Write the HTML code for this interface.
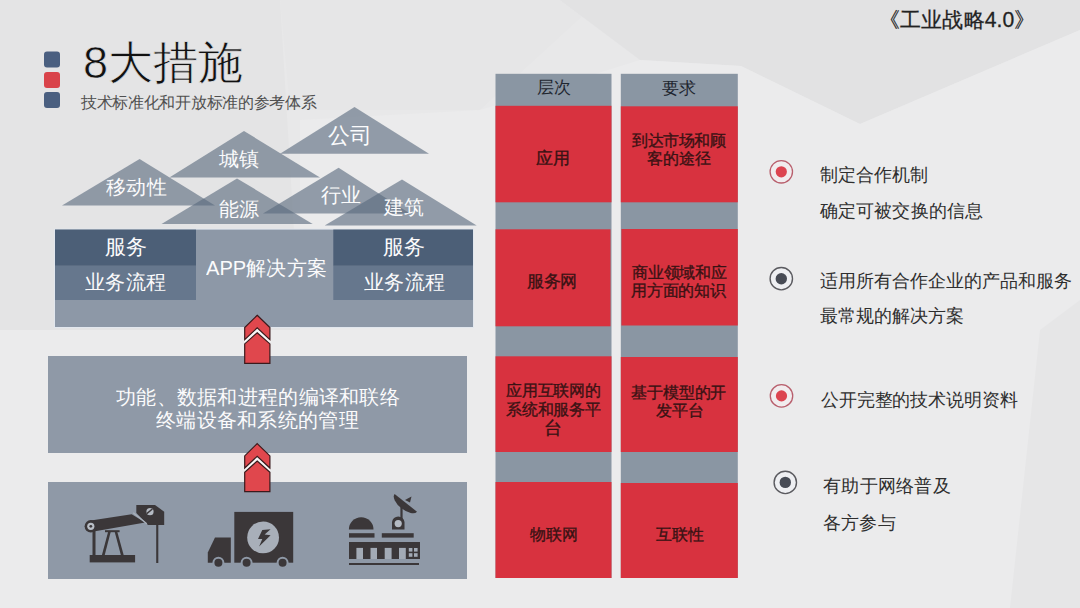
<!DOCTYPE html>
<html><head><meta charset="utf-8">
<style>
html,body{margin:0;padding:0;}
body{width:1080px;height:608px;overflow:hidden;position:relative;background:#e8e8e9;font-family:"Liberation Sans",sans-serif;}
.a{position:absolute;white-space:nowrap;}
svg{position:absolute;left:0;top:0;}
.w{color:#fff;}
.tri{font-size:22px;line-height:22px;color:#fbfbfc;}
.cell{position:absolute;font-size:15.5px;line-height:19.5px;color:#3a1416;text-align:center;display:flex;align-items:center;justify-content:center;white-space:normal;}
.bt{font-size:18px;line-height:18px;color:#2e2e2e;}
.t{position:absolute;white-space:nowrap;transform-origin:0 0;}
</style></head>
<body>
<svg width="1080" height="608" viewBox="0 0 1080 608">
  <!-- background facets -->
  <rect x="0" y="0" width="1080" height="608" fill="#e8e8e9"/>
  <polygon points="0,0 280,0 300,330 0,330" fill="#e4e4e5"/>
  <polygon points="280,0 600,0 480,110 290,110" fill="#e6e6e7"/>
  <polygon points="560,0 1080,0 1080,30 860,124 741,66 640,60" fill="#e2e2e3"/>
  <polygon points="300,120 480,110 640,60 741,66 860,124 1080,30 1080,608 300,608" fill="#ebebec"/>
  <polygon points="1040,330 1080,300 1080,608 1010,608" fill="#e6e6e7"/>
  <polygon points="0,330 300,330 330,608 0,608" fill="#ebebec"/>
  <!-- bullet squares -->
  <rect x="44" y="51.5" width="16" height="16" rx="3" fill="#4a5f80"/>
  <rect x="44" y="72" width="16" height="16" rx="3" fill="#d9434a"/>
  <rect x="44" y="92" width="16" height="16" rx="3" fill="#4a5f80"/>

  <!-- triangles -->
  <g fill="rgb(90,106,126)" fill-opacity="0.62">
    <polygon points="354.5,107 280,153.7 429,153.7"/>
    <polygon points="244,131 169.4,177.6 320,177.6"/>
    <polygon points="139.6,159 62,205.5 215,205.5"/>
    <polygon points="237,178.4 161.5,224 312.7,224"/>
    <polygon points="338.6,167.7 263,213.5 410,213.5"/>
    <polygon points="402,179.6 324.7,225.4 476.7,225.4"/>
  </g>

  <!-- app block -->
  <rect x="54" y="228.6" width="420" height="99.4" fill="#e2e7ee"/>
  <rect x="55" y="229.6" width="418" height="97.4" fill="#8d98a7"/>
  <rect x="55" y="229.6" width="141" height="36.2" fill="#4c5f77"/>
  <rect x="55" y="265.8" width="141" height="34.2" fill="#66778d"/>
  <rect x="333.3" y="229.6" width="139.7" height="36.2" fill="#4c5f77"/>
  <rect x="333.3" y="265.8" width="139.7" height="34.2" fill="#66778d"/>

  <!-- middle block -->
  <rect x="48" y="356" width="419" height="97" fill="#8f99a7"/>
  <!-- bottom block -->
  <rect x="48" y="482" width="419" height="97" fill="#8f99a7"/>


  <!-- icons -->
  <g fill="#3b3739">
    <!-- oil pump -->
    <rect x="89.7" y="555" width="45.4" height="7.4"/>
    <rect x="92.5" y="530" width="3" height="26"/>
    <rect x="105" y="530.2" width="14.6" height="2"/>
    <polygon points="108.2,531.5 110.8,531.5 104.6,555.5 101.8,555.5"/>
    <polygon points="114.6,531.5 117.2,531.5 123.8,555.5 121,555.5"/>
    <polygon points="90.8,520.6 131.7,514.2 145.2,522.6 90.8,532"/>
    <circle cx="90.8" cy="526.3" r="6.2"/>
    <circle cx="90.8" cy="526.3" r="3.6" fill="#b9bec6"/>
    <circle cx="90.8" cy="526.3" r="1.4"/>
    <polygon points="136.3,505 155,505 164.2,511.7 164.2,525 148,525 136.3,513"/>
    <rect x="156.2" y="524" width="2.1" height="39"/>
  </g>
  <line x1="133.2" y1="512.8" x2="146.8" y2="523.8" stroke="#a9b0ba" stroke-width="1.3"/>
  <circle cx="150" cy="511.7" r="3.6" fill="#b4bac3"/>
  <line x1="146.8" y1="513.6" x2="152.4" y2="509" stroke="#3b3739" stroke-width="1.4"/>
  <g fill="#3b3739">
    <!-- truck -->
    <rect x="234.3" y="511.9" width="58.9" height="50.8"/>
    <polygon points="215,537.4 230.8,537.4 230.8,562.7 207.8,562.7 207.8,552.4"/>
  </g>
  <circle cx="263.1" cy="537.4" r="15.9" fill="#a8afb9"/>
  <polygon points="262.3,530.1 270.6,529.2 264.6,534.4 270.6,535.3 259.1,546.5 262.3,539 258,539" fill="#3b3739"/>
  <g fill="#3b3739" stroke="#8f99a7" stroke-width="2">
    <circle cx="218.4" cy="562.7" r="5"/>
    <circle cx="246.6" cy="562.7" r="5"/>
    <circle cx="282.6" cy="562.7" r="5"/>
  </g>
  <g fill="#3b3739">
    <!-- observatory -->
    <path d="M348.9,529.5 A12.3,12.3 0 0 1 373.5,529.5 Z"/>
    <rect x="349" y="533.2" width="25.5" height="4.4"/>
    <rect x="381.8" y="533.2" width="31.9" height="4.4"/>
    <rect x="349" y="542" width="71" height="17"/>
    <rect x="349" y="563" width="70" height="2"/>
    <path d="M392,529.5 L392,522 A6.3,6.3 0 0 1 404.5,522 L404.5,529.5 Z"/>
    <rect x="400.4" y="505" width="2.2" height="14"/>
    <path d="M394.6,494 A14.25,7 38.3 0 0 417,511.7 Z"/>
    <polygon points="405,500 411.5,496.5 410,502.5"/>
  </g>
  <circle cx="398.2" cy="523.6" r="3.6" fill="#b4bac3"/>
  <g fill="#a3abb6">
    <rect x="356.4" y="547.9" width="6.6" height="11.1"/>
    <rect x="370.5" y="547.9" width="6.5" height="11.1"/>
    <rect x="384.7" y="547.9" width="6.9" height="11.1"/>
    <rect x="399" y="547.9" width="6.8" height="11.1"/>
    <rect x="408.8" y="548" width="3.6" height="3.6"/>
    <rect x="414" y="548" width="3.6" height="3.6"/>
    <rect x="408.8" y="553.2" width="3.6" height="3.6"/>
    <rect x="414" y="553.2" width="3.6" height="3.6"/>
  </g>

  <!-- arrows -->
  <g transform="translate(0,315.3)">
    <polyline points="244.7,26.6 257.2,14.9 269.9,26.6" fill="none" stroke="#f7f7f7" stroke-width="4.2"/>
    <polygon points="257.2,0 269.9,12.3 269.9,24.4 257.2,12.6 244.7,24.4 244.7,12.3" fill="#e0474d" stroke="#3a1a1c" stroke-width="1.2"/>
    <polygon points="257.2,17.4 269.9,28.6 269.9,48 244.7,48 244.7,28.6" fill="#e0474d" stroke="#3a1a1c" stroke-width="1.2"/>
  </g>
  <g transform="translate(0,443.6)">
    <polyline points="244.7,26.6 257.2,14.9 269.9,26.6" fill="none" stroke="#f7f7f7" stroke-width="4.2"/>
    <polygon points="257.2,0 269.9,12.3 269.9,24.4 257.2,12.6 244.7,24.4 244.7,12.3" fill="#e0474d" stroke="#3a1a1c" stroke-width="1.2"/>
    <polygon points="257.2,17.4 269.9,28.6 269.9,48 244.7,48 244.7,28.6" fill="#e0474d" stroke="#3a1a1c" stroke-width="1.2"/>
  </g>
  <!-- columns -->
  <g fill="#8a96a3">
    <rect x="495.5" y="73.8" width="116" height="504.2"/>
    <rect x="620.8" y="73.8" width="117" height="504.2"/>
  </g>
  <g fill="#d8323f">
    <rect x="495.5" y="105.8" width="116" height="96.5"/>
    <rect x="495.5" y="229.3" width="115" height="97"/>
    <rect x="495.5" y="356.3" width="116" height="95.7"/>
    <rect x="495.5" y="482" width="116" height="96"/>
    <rect x="620.8" y="106.3" width="117" height="96"/>
    <rect x="621.4" y="229" width="116.4" height="96.5"/>
    <rect x="620.8" y="357" width="117" height="95"/>
    <rect x="620.8" y="483" width="117" height="95"/>
  </g>

  <!-- radio bullets -->
  <g>
    <circle cx="781.3" cy="171.8" r="11.2" fill="#f1ecee" stroke="#b85f6d" stroke-width="1.3"/>
    <circle cx="781.3" cy="171.8" r="5.6" fill="#dc4450"/>
    <circle cx="781.3" cy="278.7" r="11.2" fill="#eeeff2" stroke="#5b5b60" stroke-width="1.4"/>
    <circle cx="781.3" cy="278.7" r="5.7" fill="#474b55"/>
    <circle cx="781.5" cy="395.9" r="11.2" fill="#f1ecee" stroke="#b85f6d" stroke-width="1.3"/>
    <circle cx="781.5" cy="395.9" r="5.6" fill="#dc4450"/>
    <circle cx="785.3" cy="482.4" r="11.2" fill="#eeeff2" stroke="#5b5b60" stroke-width="1.4"/>
    <circle cx="785.3" cy="482.4" r="5.7" fill="#474b55"/>
  </g>
</svg>

<!-- TEXT START -->
<div class="t" style="left:83.34px;top:39.93px;font-size:46px;line-height:46px;font-weight:400;color:#111;transform:scale(0.9814);-webkit-text-stroke:0.7px #e4e4e5;">8大措施</div>
<div class="t" style="left:81.00px;top:94.94px;font-size:16px;line-height:16px;font-weight:400;color:#505050;transform:scale(0.9808);">技术标准化和开放标准的参考体系</div>
<div class="t" style="left:878.76px;top:9.07px;font-size:20px;line-height:20px;font-weight:400;color:#222;transform:scale(1.0579);-webkit-text-stroke:0.25px #222;">《工业战略4.0》</div>
<div class="t" style="left:328.10px;top:125.23px;font-size:22px;line-height:22px;font-weight:400;color:#fbfbfc;transform:scale(0.9825);">公司</div>
<div class="t" style="left:219.30px;top:149.23px;font-size:22px;line-height:22px;font-weight:400;color:#fbfbfc;transform:scale(0.9209);">城镇</div>
<div class="t" style="left:105.50px;top:177.43px;font-size:22px;line-height:22px;font-weight:400;color:#fbfbfc;transform:scale(0.9308);">移动性</div>
<div class="t" style="left:218.89px;top:200.40px;font-size:22px;line-height:22px;font-weight:400;color:#fbfbfc;transform:scale(0.9093);">能源</div>
<div class="t" style="left:320.70px;top:185.23px;font-size:22px;line-height:22px;font-weight:400;color:#fbfbfc;transform:scale(0.9256);">行业</div>
<div class="t" style="left:383.60px;top:197.13px;font-size:22px;line-height:22px;font-weight:400;color:#fbfbfc;transform:scale(0.9256);">建筑</div>
<div class="t" style="left:104.55px;top:236.58px;font-size:22px;line-height:22px;font-weight:400;color:#fbfbfc;transform:scale(0.9452);">服务</div>
<div class="t" style="left:85.10px;top:271.75px;font-size:22px;line-height:22px;font-weight:400;color:#fbfbfc;transform:scale(0.9287);">业务流程</div>
<div class="t" style="left:382.55px;top:236.58px;font-size:22px;line-height:22px;font-weight:400;color:#fbfbfc;transform:scale(0.9452);">服务</div>
<div class="t" style="left:363.50px;top:271.75px;font-size:22px;line-height:22px;font-weight:400;color:#fbfbfc;transform:scale(0.9287);">业务流程</div>
<div class="t" style="left:206.40px;top:257.83px;font-size:21px;line-height:21px;font-weight:400;color:#fbfbfc;transform:scale(0.9592);">APP解决方案</div>
<div class="t" style="left:115.60px;top:387.26px;font-size:20px;line-height:20px;font-weight:400;color:#fbfbfc;transform:scale(1.0140);">功能、数据和进程的编译和联络</div>
<div class="t" style="left:156.00px;top:409.51px;font-size:20px;line-height:20px;font-weight:400;color:#fbfbfc;transform:scale(1.0141);">终端设备和系统的管理</div>
<div class="t" style="left:537.16px;top:80.38px;font-size:16px;line-height:16px;font-weight:400;color:#1f2630;transform:scale(1.0367);">层次</div>
<div class="t" style="left:662.24px;top:80.20px;font-size:16px;line-height:16px;font-weight:400;color:#1f2630;transform:scale(1.0600);">要求</div>
<div class="t" style="left:536.25px;top:150.46px;font-size:16px;line-height:16px;font-weight:400;color:#3a1214;transform:scale(1.0517);-webkit-text-stroke:0.35px #3a1214;">应用</div>
<div class="t" style="left:527.36px;top:273.87px;font-size:16px;line-height:16px;font-weight:400;color:#3a1214;transform:scale(1.0378);-webkit-text-stroke:0.35px #3a1214;">服务网</div>
<div class="t" style="left:505.71px;top:383.39px;font-size:16px;line-height:16px;font-weight:400;color:#3a1214;transform:scale(0.9883);-webkit-text-stroke:0.35px #3a1214;">应用互联网的</div>
<div class="t" style="left:505.71px;top:401.79px;font-size:16px;line-height:16px;font-weight:400;color:#3a1214;transform:scale(0.9883);-webkit-text-stroke:0.35px #3a1214;">系统和服务平</div>
<div class="t" style="left:544.42px;top:418.79px;font-size:16px;line-height:16px;font-weight:400;color:#3a1214;transform:scale(1.1417);-webkit-text-stroke:0.35px #3a1214;">台</div>
<div class="t" style="left:530.00px;top:526.84px;font-size:16px;line-height:16px;font-weight:400;color:#3a1214;transform:scale(1.0152);-webkit-text-stroke:0.35px #3a1214;">物联网</div>
<div class="t" style="left:632.20px;top:132.50px;font-size:16px;line-height:16px;font-weight:400;color:#3a1214;transform:scale(0.9729);-webkit-text-stroke:0.35px #3a1214;">到达市场和顾</div>
<div class="t" style="left:646.80px;top:150.83px;font-size:16px;line-height:16px;font-weight:400;color:#3a1214;transform:scale(1.0032);-webkit-text-stroke:0.35px #3a1214;">客的途径</div>
<div class="t" style="left:632.20px;top:264.58px;font-size:16px;line-height:16px;font-weight:400;color:#3a1214;transform:scale(0.9895);-webkit-text-stroke:0.35px #3a1214;">商业领域和应</div>
<div class="t" style="left:631.21px;top:282.58px;font-size:16px;line-height:16px;font-weight:400;color:#3a1214;transform:scale(0.9895);-webkit-text-stroke:0.35px #3a1214;">用方面的知识</div>
<div class="t" style="left:631.21px;top:385.35px;font-size:16px;line-height:16px;font-weight:400;color:#3a1214;transform:scale(0.9936);-webkit-text-stroke:0.35px #3a1214;">基于模型的开</div>
<div class="t" style="left:655.60px;top:403.32px;font-size:16px;line-height:16px;font-weight:400;color:#3a1214;transform:scale(1.0043);-webkit-text-stroke:0.35px #3a1214;">发平台</div>
<div class="t" style="left:655.60px;top:527.01px;font-size:16px;line-height:16px;font-weight:400;color:#3a1214;transform:scale(0.9915);-webkit-text-stroke:0.35px #3a1214;">互联性</div>
<div class="t" style="left:820.20px;top:166.04px;font-size:18px;line-height:18px;font-weight:400;color:#2e2e2e;transform:scale(0.9953);">制定合作机制</div>
<div class="t" style="left:820.00px;top:202.45px;font-size:18px;line-height:18px;font-weight:400;color:#2e2e2e;transform:scale(1.0056);">确定可被交换的信息</div>
<div class="t" style="left:820.10px;top:271.75px;font-size:18px;line-height:18px;font-weight:400;color:#2e2e2e;transform:scale(0.9996);">适用所有合作企业的产品和服务</div>
<div class="t" style="left:820.00px;top:307.46px;font-size:18px;line-height:18px;font-weight:400;color:#2e2e2e;transform:scale(0.9993);">最常规的解决方案</div>
<div class="t" style="left:821.00px;top:390.81px;font-size:18px;line-height:18px;font-weight:400;color:#2e2e2e;transform:scale(0.9929);">公开完整的技术说明资料</div>
<div class="t" style="left:822.69px;top:476.57px;font-size:18px;line-height:18px;font-weight:400;color:#2e2e2e;transform:scale(1.0145);">有助于网络普及</div>
<div class="t" style="left:822.59px;top:513.78px;font-size:18px;line-height:18px;font-weight:400;color:#2e2e2e;transform:scale(1.0129);">各方参与</div>
</body></html>
